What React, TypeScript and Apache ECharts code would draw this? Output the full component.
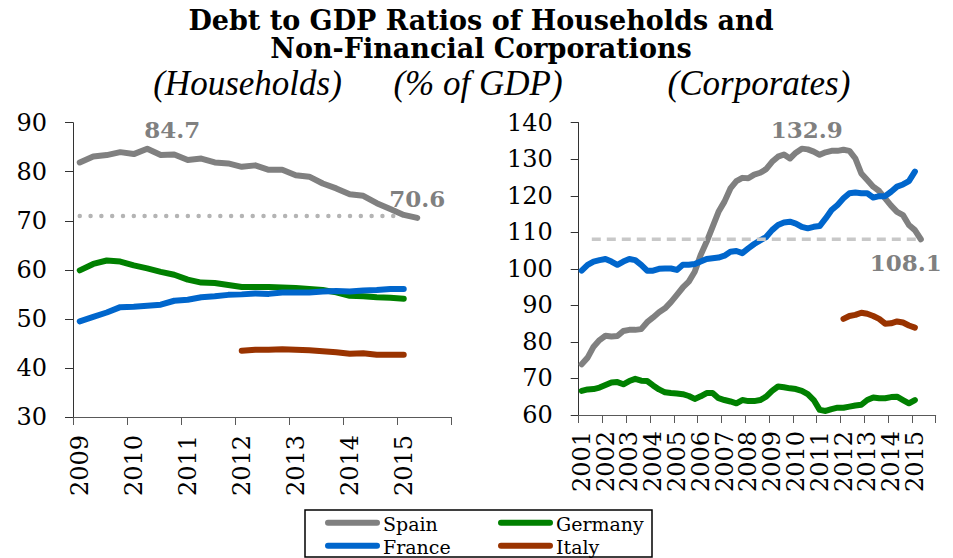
import React, { useEffect, useRef } from "react";
import * as echarts from "echarts";

// ---------- Data (quarterly, % of GDP) ----------
// Households panel: 2009Q1 .. (Spain to 2015Q2, others to 2015Q1)
const hhSpain = [81.9, 83.1, 83.4, 84.0, 83.6, 84.7, 83.4, 83.5, 82.4, 82.7, 81.9, 81.7, 81.0, 81.3, 80.4, 80.4, 79.3, 79.0, 77.6, 76.6, 75.4, 75.1, 73.6, 72.4, 71.2, 70.6];
const hhGermany = [59.9, 61.2, 61.9, 61.7, 60.9, 60.3, 59.6, 59.0, 58.0, 57.4, 57.3, 56.9, 56.5, 56.5, 56.5, 56.4, 56.3, 56.1, 55.9, 55.4, 54.7, 54.6, 54.4, 54.3, 54.1];
const hhFrance = [49.5, 50.4, 51.3, 52.4, 52.5, 52.7, 52.9, 53.7, 53.9, 54.4, 54.6, 54.9, 55.0, 55.2, 55.1, 55.4, 55.4, 55.4, 55.6, 55.7, 55.6, 55.8, 55.9, 56.1, 56.1];
// Italy households from 2012Q1
const hhItaly = [43.5, 43.7, 43.7, 43.8, 43.7, 43.6, 43.4, 43.2, 42.9, 43.0, 42.7, 42.7, 42.7];
const hhRefValue = 71.0;

// Corporates panel: 2001Q1 .. (Spain to 2015Q2, others to 2015Q1)
const coSpain = [
  73.9, 75.7, 78.7, 80.5, 81.7, 81.5, 81.6, 83.0, 83.3, 83.3,
  83.5, 85.4, 86.7, 88.1, 89.2, 90.9, 92.9, 94.9, 96.5, 99.2,
  103.8, 107.4, 111.5, 115.6, 118.4, 122.0, 124.0, 124.9, 124.8, 125.8,
  126.3, 127.3, 129.3, 130.7, 131.3, 130.2, 131.8, 132.9, 132.7, 132.1,
  131.2, 131.9, 132.3, 132.3, 132.6, 132.3, 130.2, 126.1, 124.3, 122.5,
  121.3, 119.3, 117.3, 115.6, 114.7, 112.0, 110.6, 108.1,
];
const coFrance = [
  99.5, 101.1, 102.0, 102.4, 102.7, 102.0, 101.1, 102.0, 102.7, 102.4,
  101.1, 99.5, 99.5, 100.0, 100.1, 100.1, 99.7, 101.1, 101.1, 101.3,
  102.0, 102.7, 102.9, 103.1, 103.6, 104.7, 104.9, 104.3, 105.6, 106.8,
  107.8, 108.7, 110.6, 112.0, 112.7, 112.9, 112.4, 111.5, 111.1, 111.5,
  111.7, 113.8, 116.1, 117.5, 119.3, 120.7, 120.9, 120.7, 120.7, 119.5,
  119.9, 119.9, 121.1, 122.5, 123.1, 124.0, 126.6,
];
const coGermany = [
  66.6, 67.0, 67.1, 67.5, 68.2, 68.9, 69.0, 68.4, 69.3, 69.9,
  69.4, 69.3, 68.1, 67.0, 66.2, 66.0, 65.9, 65.7, 65.2, 64.4,
  65.1, 66.0, 66.0, 64.6, 64.1, 63.7, 63.2, 64.1, 63.8, 63.8,
  64.1, 65.0, 66.6, 67.8, 67.6, 67.3, 67.1, 66.6, 65.7, 64.1,
  61.4, 61.1, 61.6, 62.0, 62.0, 62.3, 62.6, 62.8, 64.1, 64.8,
  64.6, 64.6, 64.9, 65.0, 64.1, 63.2, 64.1,
];
// Italy corporates from 2012Q1
const coItaly = [86.3, 87.1, 87.4, 88.0, 87.7, 87.1, 86.3, 85.0, 85.1, 85.6, 85.3, 84.5, 83.9];
const coRefValue = 108.1;

// tick labels
const hhYears = ["2009", "2010", "2011", "2012", "2013", "2014", "2015"];
const coYears = ["2001", "2002", "2003", "2004", "2005", "2006", "2007", "2008", "2009", "2010", "2011", "2012", "2013", "2014", "2015"];
const hhTicks = ["30", "40", "50", "60", "70", "80", "90"];
const coTicks = ["60", "70", "80", "90", "100", "110", "120", "130", "140"];

const seriesNames = ["Spain", "Germany", "France", "Italy"];
const seriesColors = ["#808080", "#008000", "#0066CC", "#993300"];

const FONT = "DejaVu Serif";
const ITALIC_FONT = "Liberation Serif";

// quarter position on a continuous year axis
const qx = (startYear: number, startQ: number, i: number) =>
  startYear + (startQ - 1 + i + 0.5) / 4;

const buildData = (values: number[], startYear: number, startQ: number) =>
  values.map((v, i) => [qx(startYear, startQ, i), v]);

const argMax = (arr: number[]) => arr.indexOf(Math.max(...arr));

export default function App() {
  const ref = useRef<HTMLDivElement>(null);

  useEffect(() => {
    if (!ref.current) return;
    const el = ref.current;
    const chart = echarts.init(el, undefined, { renderer: "svg" });

    const lineSeries = (
      name: string,
      color: string,
      data: any[],
      axis: number,
      z: number
    ) => ({
      type: "line",
      name,
      xAxisIndex: axis,
      yAxisIndex: axis,
      data,
      showSymbol: false,
      symbol: "none",
      itemStyle: { color },
      lineStyle: { color, width: 6, cap: "round", join: "round" },
      z,
      silent: true,
    });

    const richLabel = (pad: number[]) => ({
      fontFamily: FONT,
      fontSize: 24,
      color: "#000",
      padding: pad,
    });

    // value axes: line + ticks (data positions)
    const xValueAxis = (grid: number, ys: string[]) => ({
      type: "value",
      gridIndex: grid,
      position: "bottom",
      min: Number(ys[0]),
      max: Number(ys[ys.length - 1]) + 1,
      interval: 1,
      axisLine: { show: true, lineStyle: { color: "#595959", width: 1 } },
      axisTick: { show: true, length: 8, lineStyle: { color: "#595959", width: 1 } },
      splitLine: { show: false },
      axisLabel: { show: false },
    });
    const yValueAxis = (grid: number, ticks: string[]) => ({
      type: "value",
      gridIndex: grid,
      position: "left",
      min: Number(ticks[0]),
      max: Number(ticks[ticks.length - 1]),
      interval: 10,
      axisLine: { show: true, lineStyle: { color: "#333", width: 1 } },
      axisTick: { show: true, length: 8, lineStyle: { color: "#333", width: 1 } },
      splitLine: { show: false },
      axisLabel: { show: false },
    });

    // category axes over the same spans: only the tick labels
    const xLabelAxis = (grid: number, ys: string[], pad: number, margin: number) => ({
      type: "category",
      gridIndex: grid,
      position: "bottom",
      data: [...ys, ""],
      boundaryGap: false,
      axisLine: { show: false },
      axisTick: { show: false },
      splitLine: { show: false },
      axisLabel: {
        show: true,
        rotate: 90,
        interval: 0,
        margin,
        fontFamily: FONT,
        fontSize: 24,
        color: "#000",
        formatter: (v: string) => (v ? `{y|${v}}` : ""),
        rich: { y: richLabel([pad, 0, 0, 0]) },
      },
    });
    const yLabelAxis = (grid: number, ticks: string[]) => ({
      type: "category",
      gridIndex: grid,
      position: "left",
      data: ticks,
      boundaryGap: false,
      axisLine: { show: false },
      axisTick: { show: false },
      splitLine: { show: false },
      axisLabel: {
        show: true,
        interval: 0,
        margin: 26,
        fontFamily: FONT,
        fontSize: 24,
        color: "#000",
        formatter: (v: string) => `{y|${v}}`,
        rich: { y: richLabel([0, 0, 0, 0]) },
      },
    });

    const textEl = (
      text: string,
      x: number,
      y: number,
      font: string,
      fill = "#000",
      align = "center"
    ) => ({
      type: "text",
      silent: true,
      style: {
        text,
        x,
        y,
        font,
        fill,
        align,
        textAlign: align,
        verticalAlign: "middle",
        textVerticalAlign: "middle",
      },
    });

    chart.setOption({
      animation: false,
      textStyle: { fontFamily: FONT },
      grid: [
        { left: 73, top: 122.7, width: 378, height: 294.3, containLabel: false },
        { left: 578.7, top: 122.7, width: 357, height: 292.3, containLabel: false },
      ],
      xAxis: [
        xValueAxis(0, hhYears),
        xValueAxis(1, coYears),
        xLabelAxis(0, hhYears, 14, 18),
        xLabelAxis(1, coYears, 6, 16),
      ],
      yAxis: [
        yValueAxis(0, hhTicks),
        yValueAxis(1, coTicks),
        yLabelAxis(0, hhTicks),
        yLabelAxis(1, coTicks),
      ],
      series: [
        // Households
        lineSeries(seriesNames[0], seriesColors[0], buildData(hhSpain, 2009, 1), 0, 2),
        lineSeries(seriesNames[1], seriesColors[1], buildData(hhGermany, 2009, 1), 0, 3),
        lineSeries(seriesNames[2], seriesColors[2], buildData(hhFrance, 2009, 1), 0, 4),
        lineSeries(seriesNames[3], seriesColors[3], buildData(hhItaly, 2012, 1), 0, 5),
        {
          type: "line",
          xAxisIndex: 0,
          yAxisIndex: 0,
          data: [
            [qx(2009, 1, 0), hhRefValue],
            [qx(2015, 1, 0), hhRefValue],
          ],
          symbol: "none",
          silent: true,
          lineStyle: { color: "#b4b4b4", width: 4.5, type: [0.01, 10.8], cap: "round" },
          z: 6,
        },
        // Corporates
        lineSeries(seriesNames[0], seriesColors[0], buildData(coSpain, 2001, 1), 1, 2),
        lineSeries(seriesNames[1], seriesColors[1], buildData(coGermany, 2001, 1), 1, 3),
        lineSeries(seriesNames[2], seriesColors[2], buildData(coFrance, 2001, 1), 1, 4),
        lineSeries(seriesNames[3], seriesColors[3], buildData(coItaly, 2012, 1), 1, 5),
        {
          type: "line",
          xAxisIndex: 1,
          yAxisIndex: 1,
          data: [
            [2001.55, coRefValue],
            [qx(2015, 2, 0), coRefValue],
          ],
          symbol: "none",
          silent: true,
          lineStyle: { color: "#c8c8c8", width: 3.5, type: [9, 6] },
          z: 6,
        },
      ],
    });

    // Annotations anchored to data points through the axes' own scales
    const annFont = `bold 23px ${FONT}`;
    const ann = (axis: number, values: number[], startYear: number, idx: number, dx: number, dy: number) => {
      const p = chart.convertToPixel({ xAxisIndex: axis, yAxisIndex: axis }, [qx(startYear, 1, idx), values[idx]]);
      return textEl(values[idx].toFixed(1), p[0] + dx, p[1] + dy, annFont, "#808080");
    };

    // Legend (2 x 2, boxed)
    const legendRows = [
      [0, 325, 522.7],
      [2, 325, 545.7],
      [1, 498, 522.7],
      [3, 498, 545.7],
    ];
    const legendEls: any[] = [];
    legendRows.forEach(([si, x, y]) => {
      legendEls.push({
        type: "line",
        silent: true,
        shape: { x1: x + 3, y1: y, x2: x + 52, y2: y },
        style: { stroke: seriesColors[si], lineWidth: 6, lineCap: "round" },
      });
      legendEls.push(textEl(seriesNames[si], x + 58, y + 1, `19px ${FONT}`, "#000", "left"));
    });

    chart.setOption({
      graphic: [
        textEl("Debt to GDP Ratios of Households and", 481, 20, `bold 27px ${FONT}`),
        textEl("Non-Financial Corporations", 481, 48, `bold 27px ${FONT}`),
        textEl("(Households)", 247.5, 83, `italic 35px ${ITALIC_FONT}`),
        textEl("(% of GDP)", 478, 83, `italic 35px ${ITALIC_FONT}`),
        textEl("(Corporates)", 759, 83, `italic 35px ${ITALIC_FONT}`),
        ann(0, hhSpain, 2009, argMax(hhSpain), 25, -19),
        ann(0, hhSpain, 2009, hhSpain.length - 1, 0, -19),
        ann(1, coSpain, 2001, argMax(coSpain), 5, -19),
        ann(1, coSpain, 2001, coSpain.length - 1, -15, 23),
        {
          type: "rect",
          silent: true,
          shape: { x: 305, y: 510, width: 347, height: 47 },
          style: { fill: "none", stroke: "#000", lineWidth: 1.5 },
        },
        ...legendEls,
      ],
    });

    return () => {
      chart.dispose();
    };
  }, []);

  return (
    <div
      ref={ref}
      style={{ position: "absolute", left: 0, top: 0, width: 953, height: 558, background: "#fff" }}
    />
  );
}
